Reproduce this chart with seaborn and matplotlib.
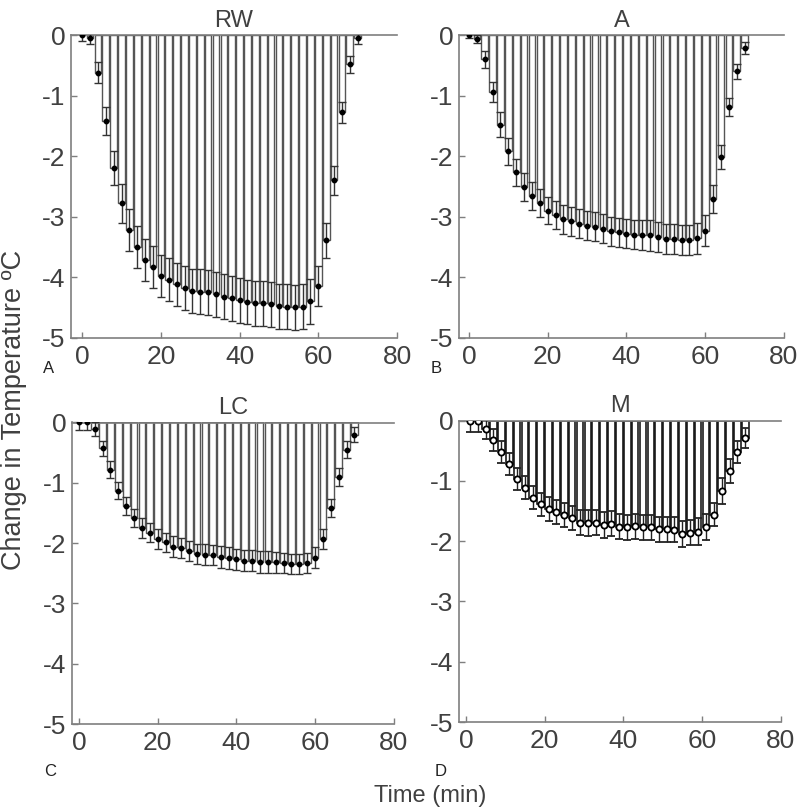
import matplotlib
matplotlib.use("Agg")
import matplotlib.pyplot as plt
import numpy as np
import pandas as pd
import seaborn as sns

# ---------------- data ----------------
time_even = list(range(0, 71, 2))
time_odd = list(range(1, 72, 2))

rw_mean = [0.0, -0.05, -0.62, -1.42, -2.19, -2.78, -3.22, -3.50, -3.72, -3.83,
           -3.98, -4.04, -4.12, -4.18, -4.23, -4.24, -4.25, -4.28, -4.32, -4.35,
           -4.38, -4.41, -4.43, -4.43, -4.45, -4.48, -4.49, -4.50, -4.49, -4.40,
           -4.15, -3.39, -2.40, -1.28, -0.48, -0.05]
rw_se = [0.10, 0.10, 0.18, 0.23, 0.28, 0.32, 0.34, 0.35, 0.35, 0.35,
         0.35, 0.36, 0.36, 0.36, 0.37, 0.37, 0.37, 0.37, 0.37, 0.37,
         0.37, 0.37, 0.37, 0.37, 0.37, 0.37, 0.37, 0.37, 0.37, 0.37,
         0.33, 0.29, 0.24, 0.18, 0.14, 0.10]

a_mean = [0.0, -0.07, -0.40, -0.94, -1.48, -1.92, -2.27, -2.51, -2.66, -2.78,
          -2.90, -2.97, -3.04, -3.08, -3.12, -3.15, -3.17, -3.20, -3.24, -3.26,
          -3.28, -3.30, -3.30, -3.31, -3.34, -3.37, -3.37, -3.39, -3.39, -3.36,
          -3.23, -2.71, -2.01, -1.19, -0.60, -0.22]
a_se = [0.05, 0.07, 0.14, 0.17, 0.20, 0.22, 0.23, 0.23, 0.23, 0.23,
        0.23, 0.23, 0.24, 0.24, 0.24, 0.24, 0.24, 0.24, 0.24, 0.24,
        0.24, 0.24, 0.25, 0.25, 0.25, 0.25, 0.25, 0.25, 0.25, 0.25,
        0.25, 0.23, 0.20, 0.15, 0.12, 0.10]

lc_mean = [0.0, 0.0, -0.11, -0.43, -0.78, -1.13, -1.39, -1.59, -1.75, -1.83,
           -1.93, -1.99, -2.06, -2.08, -2.13, -2.18, -2.19, -2.20, -2.23, -2.25,
           -2.27, -2.29, -2.29, -2.31, -2.31, -2.32, -2.33, -2.35, -2.35, -2.33,
           -2.24, -1.93, -1.42, -0.91, -0.45, -0.20]
lc_se = [0.12, 0.12, 0.11, 0.13, 0.14, 0.14, 0.15, 0.15, 0.16, 0.16,
         0.16, 0.16, 0.17, 0.17, 0.17, 0.17, 0.17, 0.17, 0.18, 0.18,
         0.18, 0.18, 0.18, 0.18, 0.18, 0.17, 0.17, 0.17, 0.17, 0.17,
         0.17, 0.16, 0.15, 0.15, 0.14, 0.12]

m_mean = [0.0, 0.0, -0.13, -0.32, -0.52, -0.72, -0.97, -1.11, -1.28, -1.39,
          -1.46, -1.52, -1.56, -1.61, -1.69, -1.70, -1.69, -1.73, -1.71, -1.76,
          -1.77, -1.75, -1.77, -1.77, -1.80, -1.80, -1.81, -1.88, -1.86, -1.84,
          -1.76, -1.56, -1.17, -0.83, -0.52, -0.29]
m_se = [0.19, 0.19, 0.18, 0.18, 0.18, 0.18, 0.18, 0.19, 0.19, 0.19,
        0.20, 0.20, 0.20, 0.20, 0.20, 0.21, 0.21, 0.21, 0.21, 0.21,
        0.21, 0.21, 0.21, 0.21, 0.21, 0.21, 0.21, 0.21, 0.21, 0.22,
        0.22, 0.19, 0.22, 0.20, 0.19, 0.17]

titles = ["RW", "A", "LC", "M"]
letters = ["A", "B", "C", "D"]
x_ticks = [0, 20, 40, 60, 80]
y_ticks = [0, -1, -2, -3, -4, -5]

# ---------------- style ----------------
sns.set_theme(style="white")
plt.rcParams["font.family"] = ["Liberation Sans", "DejaVu Sans"]
plt.rcParams["axes.unicode_minus"] = False

TXT = "#404040"
SPINE = "#7f7f7f"

W, H = 800, 811
fig = plt.figure(figsize=(W / 100, H / 100), dpi=100)


def rect(l, r, t, b):
    return [l / W, 1 - b / H, (r - l) / W, (b - t) / H]


panels = [
    dict(rect=rect(71, 397, 35, 337.7), xmin=-2.85, t=time_even, m=rw_mean, s=rw_se, open=False),
    dict(rect=rect(459.3, 784, 35, 337.7), xmin=-2.46, t=time_even, m=a_mean, s=a_se, open=False),
    dict(rect=rect(71.7, 393.8, 422.5, 724), xmin=-1.86, t=time_even, m=lc_mean, s=lc_se, open=False),
    dict(rect=rect(458.7, 780.7, 420.7, 722), xmin=-1.83, t=time_odd, m=m_mean, s=m_se, open=True),
]

for i, p in enumerate(panels):
    ax = fig.add_axes(p["rect"])
    df = pd.DataFrame({"time": p["t"], "mean": p["m"], "se": p["s"]})
    edge = "#111111" if p["open"] else "#555555"
    lw = 1.15 if p["open"] else 1.0
    sns.barplot(data=df, x="time", y="mean", native_scale=True, width=0.85,
                color="white", edgecolor=edge, linewidth=lw, errorbar=None,
                saturation=1, ax=ax, zorder=2)
    if p["open"]:
        ax.errorbar(df["time"], df["mean"], yerr=df["se"], fmt="o", ms=4.5,
                    mfc="white", mec="black", mew=1.3, ecolor="#222222",
                    elinewidth=1.0, capsize=3, capthick=1.0, zorder=3)
    else:
        ax.errorbar(df["time"], df["mean"], yerr=df["se"], fmt="o", ms=3.2,
                    mfc="black", mec="black", ecolor="#333333",
                    elinewidth=1.0, capsize=3, capthick=1.0, zorder=3)
    ax.set_xlim(p["xmin"], 80)
    ax.set_ylim(-5, 0)
    ax.set_xticks(x_ticks)
    ax.set_xticklabels([str(v) for v in x_ticks])
    ax.set_yticks(y_ticks)
    ax.set_yticklabels([str(v) for v in y_ticks])
    ax.set_xlabel("")
    ax.set_ylabel("")
    ax.set_facecolor("white")
    for side in ["left", "bottom", "top"]:
        ax.spines[side].set_visible(True)
        ax.spines[side].set_color(SPINE)
        ax.spines[side].set_linewidth(1.2)
    ax.spines["right"].set_visible(False)
    ax.tick_params(axis="both", direction="in", length=4, width=1, color=SPINE,
                   labelsize=19, labelcolor=TXT)
    ax.tick_params(axis="x", pad=5, top=False, bottom=True)
    ax.tick_params(axis="y", pad=4, left=True, right=False)
    ax.set_title(titles[i], fontsize=17, color=TXT, pad=6)

# panel letters
fig.text(49 / W, 1 - 369 / H, letters[0], ha="center", va="center", fontsize=12, color="#222222")
fig.text(436 / W, 1 - 369 / H, letters[1], ha="center", va="center", fontsize=12, color="#222222")
fig.text(50 / W, 1 - 771 / H, letters[2], ha="center", va="center", fontsize=12, color="#222222")
fig.text(441 / W, 1 - 771 / H, letters[3], ha="center", va="center", fontsize=12, color="#222222")

fig.text(14 / W, 1 - 410 / H, "Change in Temperature ºC", rotation=90,
         ha="center", va="center", fontsize=19.5, color=TXT)
fig.text(430 / W, 1 - 796 / H, "Time (min)", ha="center", va="center",
         fontsize=17, color=TXT)

fig.savefig("out.png", dpi=100, facecolor="white")
